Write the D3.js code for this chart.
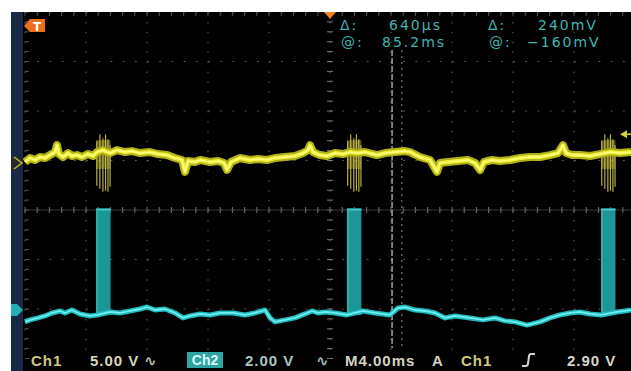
<!DOCTYPE html>
<html><head><meta charset="utf-8">
<script src="https://cdn.jsdelivr.net/npm/d3@7"></script>
<style>html,body{margin:0;padding:0;background:#fff;overflow:hidden}</style>
</head><body><svg id="c" width="631" height="371"></svg>
<script>
// ---- data (time in ms, voltages in V) ----
const ch1Time  = [0.00,0.33,0.66,0.98,1.31,1.64,1.97,2.10,2.23,2.49,2.82,3.08,3.41,3.74,4.13,4.46,4.72,5.11,5.57,6.03,6.56,7.02,7.54,8.20,8.72,9.31,9.84,10.30,10.49,10.69,11.15,11.48,12.13,12.66,13.05,13.25,13.51,14.10,14.75,15.28,15.87,16.39,17.05,17.70,18.23,18.56,18.69,18.89,19.34,19.80,20.33,20.85,21.31,21.77,22.30,23.08,23.61,24.26,24.92,25.25,25.90,26.56,27.02,27.21,27.74,28.39,29.05,29.51,29.84,30.10,30.62,31.15,31.80,32.46,33.11,33.77,34.43,34.95,35.28,35.48,35.87,36.39,37.05,37.70,38.36,39.02,39.74];
const ch1Volts = [0.1,0.5,0.3,0.6,0.5,0.8,1.1,1.8,0.9,0.6,1.0,0.7,0.8,0.6,0.9,0.7,1.1,1.3,1.0,1.3,1.1,1.2,1.0,1.1,0.9,0.8,0.5,0.3,-0.9,0.2,0.1,0.3,0.1,0.2,0.0,-0.7,0.1,0.5,0.3,0.4,0.3,0.5,0.6,0.7,1.0,1.3,1.8,1.1,0.8,0.7,1.0,0.9,1.1,1.0,1.1,0.8,1.0,1.1,1.2,1.1,0.6,0.3,-0.9,0.0,0.1,0.2,0.3,0.0,-0.7,0.1,0.3,0.2,0.3,0.5,0.6,0.6,0.8,1.0,1.8,1.0,0.8,0.8,0.7,0.9,1.1,1.0,1.1];
const ch2Time  = [0.00,0.33,0.85,1.31,1.77,2.30,2.62,3.08,3.61,4.26,4.72,5.57,6.23,6.89,7.54,8.00,8.52,9.18,9.84,10.36,10.82,11.48,12.13,12.79,13.64,14.43,15.08,15.74,16.07,16.39,17.05,17.70,18.36,18.82,19.21,19.67,20.33,21.11,22.16,22.95,23.93,24.46,24.92,25.57,26.23,26.89,27.54,28.20,29.18,30.03,30.82,31.48,32.13,32.92,33.77,34.43,35.08,35.74,36.39,37.05,37.77,38.82,39.34,39.74];
const ch2Volts = [-0.48,-0.40,-0.32,-0.24,-0.12,-0.04,-0.12,0.00,-0.16,-0.24,-0.20,-0.08,-0.12,-0.04,0.04,0.12,0.00,0.04,-0.12,-0.32,-0.24,-0.16,-0.20,-0.12,-0.12,-0.20,-0.12,0.00,-0.32,-0.48,-0.40,-0.32,-0.16,-0.04,-0.12,-0.08,-0.12,-0.20,-0.04,-0.12,-0.20,0.08,0.12,0.00,-0.04,-0.12,-0.32,-0.24,-0.32,-0.40,-0.32,-0.44,-0.48,-0.61,-0.48,-0.32,-0.20,-0.12,-0.08,-0.16,-0.20,-0.08,-0.04,0.00];
const pulseStarts = [4.66, 21.11, 37.77];
const pulseWidth = 0.95;
const pulseTop = 4.1;
const pulseBase = -0.2;
const burstOffsets = [0.05, 0.25, 0.45, 0.62, 0.78, 0.92];
const burstTops    = [2.2, 2.9, 2.5, 2.9, 2.4, 1.8];
const burstBottoms = [-2.3, -2.6, -2.9, -2.8, -2.9, -2.4];
const timeDivs = [0,4,8,12,16,20,24,28,32,36,40];
const voltDivs = [-2,-1,0,1,2,3,4];
const cursorTime = 24.07, cursorDelta = 0.64;
const triggerLevel = 2.90;
const readoutTop = [["Δ:",340],["640μs",389],["Δ:",488],["240mV",538]];
const readoutBot = [["@:",341],["85.2ms",382],["@:",489],["−160mV",527]];

// ---- scales ----
const x  = d3.scaleLinear().domain([0,40]).range([25,635]);
const yD = d3.scaleLinear().domain([-4,4]).range([408,12]);
const y1 = d3.scaleLinear().domain([-24.75,15.25]).range([408,12]); // Ch1 5 V/div
const y2 = d3.scaleLinear().domain([-3.96,12.04]).range([408,12]);  // Ch2 2 V/div

const svg = d3.select("#c");
svg.append("rect").attr("x",11).attr("y",12).attr("width",620).attr("height",359).attr("fill","#000");
svg.append("rect").attr("x",11).attr("y",12).attr("width",12).attr("height",359).attr("fill","#1a2847");

const defs = svg.append("defs");
defs.append("clipPath").attr("id","scr").append("rect").attr("x",23).attr("y",12).attr("width",608).attr("height",359);
const g = svg.append("g").attr("clip-path","url(#scr)");

const minorX = (x(4)-x(0))/5, minorY = (yD(0)-yD(1))/5;
const gridCol = "#555";
timeDivs.forEach(t=>{
  g.append("line").attr("x1",x(t)).attr("x2",x(t)).attr("y1",yD(4)).attr("y2",yD(-2.9))
   .attr("stroke",gridCol).attr("stroke-width",1.2).attr("stroke-dasharray",`1.5,${minorY-1.5}`);
});
voltDivs.forEach(v=>{
  g.append("line").attr("x1",x(0)).attr("x2",631).attr("y1",yD(v)).attr("y2",yD(v))
   .attr("stroke",gridCol).attr("stroke-width",1.2).attr("stroke-dasharray",`2,${minorX-2}`);
});
for(let i=0;i<=50;i++){
  const xx = x(0)+i*minorX;
  g.append("line").attr("x1",xx).attr("x2",xx).attr("y1",yD(0)-3).attr("y2",yD(0)+3).attr("stroke","#777").attr("stroke-width",1);
  g.append("line").attr("x1",xx).attr("x2",xx).attr("y1",yD(4)).attr("y2",yD(4)+4).attr("stroke","#555").attr("stroke-width",1);
}
for(let i=0;i<=35;i++){
  const yy = yD(4)+i*minorY;
  g.append("line").attr("x1",x(20)-3).attr("x2",x(20)+3).attr("y1",yy).attr("y2",yy).attr("stroke","#777").attr("stroke-width",1);
  g.append("line").attr("x1",x(0)).attr("x2",x(0)+4).attr("y1",yy).attr("y2",yy).attr("stroke","#555").attr("stroke-width",1);
}
g.append("line").attr("x1",x(0)).attr("x2",631).attr("y1",yD(0)).attr("y2",yD(0)).attr("stroke","#444").attr("stroke-width",0.8);

// cursors
g.append("line").attr("x1",x(cursorTime)).attr("x2",x(cursorTime)).attr("y1",50).attr("y2",348)
  .attr("stroke","#b8b8b8").attr("stroke-width",1.3).attr("stroke-dasharray","6,2");
g.append("line").attr("x1",x(cursorTime+cursorDelta)).attr("x2",x(cursorTime+cursorDelta)).attr("y1",50).attr("y2",348)
  .attr("stroke","#888").attr("stroke-width",1).attr("stroke-dasharray","2,4");

// Ch2 pulses
pulseStarts.forEach(s=>{
  g.append("rect").attr("x",x(s)).attr("y",y2(pulseTop)).attr("width",x(s+pulseWidth)-x(s))
   .attr("height",y2(pulseBase)-y2(pulseTop)).attr("fill","#1c9696");
  g.append("line").attr("x1",x(s)).attr("x2",x(s+pulseWidth)).attr("y1",y2(pulseTop)+1).attr("y2",y2(pulseTop)+1)
   .attr("stroke","#45c8c8").attr("stroke-width",2);
  g.append("line").attr("x1",x(s)+1).attr("x2",x(s)+1).attr("y1",y2(pulseTop)+2).attr("y2",y2(pulseBase))
   .attr("stroke","#2ab0b0").attr("stroke-width",2);
});

// Ch2 trace
const ln2 = d3.line().x((d,i)=>x(ch2Time[i])).y((d,i)=>y2(ch2Volts[i]));
g.append("path").datum(ch2Volts).attr("d",ln2).attr("fill","none").attr("stroke","#1fb8bc").attr("stroke-width",5).attr("stroke-linejoin","round");
g.append("path").datum(ch2Volts).attr("d",ln2).attr("fill","none").attr("stroke","#6ff0f0").attr("stroke-width",1.8).attr("stroke-linejoin","round");

// Ch1 bursts
pulseStarts.forEach(s=>{
  g.append("rect").attr("x",x(s)).attr("y",y1(2.3)).attr("width",x(s+pulseWidth)-x(s)).attr("height",y1(-0.6)-y1(2.3))
   .attr("fill","#b8b030").attr("opacity",0.45);
  burstOffsets.forEach((o,i)=>{
    g.append("line").attr("x1",x(s+o)).attr("x2",x(s+o)).attr("y1",y1(burstTops[i])).attr("y2",y1(burstBottoms[i]))
     .attr("stroke","#d8cf50").attr("stroke-width",1.2).attr("opacity",0.85);
  });
});

// Ch1 trace
const ln1 = d3.line().x((d,i)=>x(ch1Time[i])).y((d,i)=>y1(ch1Volts[i]));
g.append("path").datum(ch1Volts).attr("d",ln1).attr("fill","none").attr("stroke","#b0b01a").attr("stroke-width",8).attr("stroke-linejoin","round");
g.append("path").datum(ch1Volts).attr("d",ln1).attr("fill","none").attr("stroke","#f0f038").attr("stroke-width",4).attr("stroke-linejoin","round");
g.append("path").datum(ch1Volts).attr("d",ln1).attr("fill","none").attr("stroke","#ffff90").attr("stroke-width",1.2).attr("stroke-linejoin","round");

// markers
svg.append("path").attr("d","M24,26 L30,19 L45,19 L45,32 L30,32 Z").attr("fill","#ec6f1c");
svg.append("text").attr("x",37).attr("y",31).attr("text-anchor","middle").attr("font-family","DejaVu Sans").attr("font-weight","bold")
  .attr("font-size",12).attr("fill","#fff").text("T");
svg.append("path").attr("d",`M${x(20)-6},12 L${x(20)+6},12 L${x(20)},19 Z`).attr("fill","#f08020");
const ty = y1(triggerLevel);
svg.append("path").attr("d",`M620,${ty} L627,${ty-4} L627,${ty+4} Z`).attr("fill","#d8d040");
svg.append("line").attr("x1",624).attr("x2",631).attr("y1",ty).attr("y2",ty).attr("stroke","#d8d040").attr("stroke-width",1.5);
const g1 = y1(0);
svg.append("path").attr("d",`M11,${g1-7} L17,${g1-7} L23,${g1} L17,${g1+7} L11,${g1+7} Z`).attr("fill","#2a2a28");
svg.append("path").attr("d",`M14,${g1-6} L22,${g1} L14,${g1+6}`).attr("fill","none").attr("stroke","#b8b840").attr("stroke-width",1.5);
const g2 = y2(0);
svg.append("path").attr("d",`M11,${g2-6} L17,${g2-6} L23,${g2} L17,${g2+6} L11,${g2+6} Z`).attr("fill","#22b0b4");

// readouts
const font = "DejaVu Sans";
readoutTop.forEach(([t,xx])=>svg.append("text").attr("x",xx).attr("y",30).attr("font-family",font).attr("font-size",14)
  .attr("letter-spacing",2).attr("fill","#40b4b0").text(t));
readoutBot.forEach(([t,xx])=>svg.append("text").attr("x",xx).attr("y",47).attr("font-family",font).attr("font-size",14)
  .attr("letter-spacing",2).attr("fill","#40b4b0").text(t));

const bfont = "Liberation Sans, DejaVu Sans";
const bottom = [
  ["Ch1",31,"#cfca86"],["5.00 V",90,"#d8d6bc"],["∿",144,"#b8b8a8"],
  ["2.00 V",245,"#a8c6c4"],["∿",316,"#9fb8b8"],
  ["M4.00ms",345,"#d4d2c2"],["A",432,"#d4d2c2"],["Ch1",461,"#cfca86"],["2.90 V",567,"#d8d6cc"]
];
bottom.forEach(([t,xx,c])=>svg.append("text").attr("x",xx).attr("y",366).attr("font-family",bfont).attr("font-weight","bold")
  .attr("font-size",15).attr("letter-spacing",1).attr("fill",c).text(t));
svg.append("rect").attr("x",187).attr("y",352).attr("width",36).attr("height",16).attr("fill","#2fa2a4");
svg.append("text").attr("x",205).attr("y",365).attr("text-anchor","middle").attr("font-family",bfont).attr("font-weight","bold")
  .attr("font-size",14).attr("fill","#d6ffff").text("Ch2");
svg.append("path").attr("d","M522,366 L526,366 C528,366 528,364 528.5,360 C529,356 529,354 531,354 L535,354")
  .attr("fill","none").attr("stroke","#d8d6cc").attr("stroke-width",2);
</script></body></html>
